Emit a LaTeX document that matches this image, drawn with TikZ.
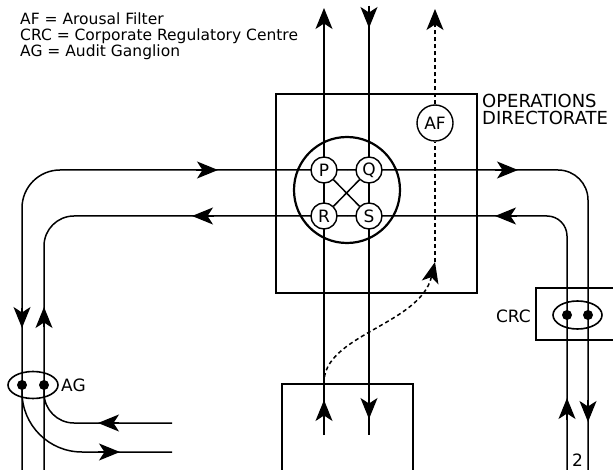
\documentclass[tikz,border=0pt]{standalone}
\usepackage{fontspec}
\setmainfont{DejaVu Sans}
\usetikzlibrary{arrows.meta,shapes.geometric}
\pgfdeclarelayer{background}
\pgfsetlayers{background,main}
\begin{document}
\begin{tikzpicture}[x=1pt,y=-1pt,
  wire/.style={line width=1.5pt},
  tipped/.style={line width=1.5pt,-{Stealth[length=21pt,width=17pt,inset=5.5pt]}},
  dashwire/.style={line width=1.5pt,dash pattern=on 4pt off 3pt},
  thickbox/.style={draw,line width=2.3pt,inner sep=0pt},
  hubnode/.style={circle,draw,line width=1.4pt,fill=white,minimum size=26pt,inner sep=0pt,font=\fontsize{17}{17}\selectfont},
  dotnode/.style={circle,fill=black,minimum size=10pt,inner sep=0pt},
  lbl/.style={inner sep=0pt,font=\fontsize{17}{17}\selectfont}]
\useasboundingbox (0,0) rectangle (613,470);
% legend
\node[anchor=north west,align=left,inner sep=0pt,font=\fontsize{15.5}{16}\selectfont] (legend) at (20,12.3)
  {AF = Arousal Filter\\CRC = Corporate Regulatory Centre\\AG = Audit Ganglion};
% operations directorate
\node[thickbox,minimum width=201pt,minimum height=199pt,anchor=north west] (opdir) at (275,93) {};
\node[anchor=north west,align=left,inner sep=0pt,font=\fontsize{18}{17.5}\selectfont] (oplabel) at (482,93.5) {OPERATIONS\\DIRECTORATE};
\node[circle,draw,line width=2.2pt,minimum size=106pt,inner sep=0pt] (hub) at (347,190) {};
\node[hubnode] (P) at (324,170) {P};
\node[hubnode] (Q) at (369,170) {Q};
\node[hubnode] (R) at (324,216) {R};
\node[hubnode] (S) at (369,216) {S};
\node[hubnode,minimum size=36pt] (AF) at (435,123) {AF};
% AG
\node[ellipse,draw,line width=1.6pt,minimum width=50pt,minimum height=27pt,inner sep=0pt] (AG) at (33,385) {};
\node[dotnode] (AGa) at (22,385) {};
\node[dotnode] (AGb) at (44,385) {};
\node[lbl,anchor=west] (AGlabel) at (61,385.5) {AG};
% CRC
\draw[line width=2pt] (613,288) -- (536,288) -- (536,340) -- (613,340);
\coordinate (crcbox) at (536,314);
\node[ellipse,draw,line width=1.6pt,minimum width=49pt,minimum height=28pt,inner sep=0pt] (CRC) at (577.5,315) {};
\node[dotnode] (CRCa) at (567,315) {};
\node[dotnode] (CRCb) at (588,315) {};
\node[lbl,anchor=east] (CRClabel) at (531,316.5) {CRC};
\node[lbl] (two) at (577.5,460) {2};
% bottom box
\draw[line width=1.5pt] (282,470) -- (282,384) -- (413,384) -- (413,470);
% coordinates
\coordinate (topL) at (324,8);
\coordinate (botL) at (324,435);
\coordinate (topR) at (369,6);
\coordinate (botR) at (369,435);
\coordinate (topAF) at (435,9);
\coordinate (afin) at (435,262);
\coordinate (boxtop) at (324,384);
\coordinate (midU) at (347,170);
\coordinate (midD) at (347,216);
\begin{pgfonlayer}{background}
\draw[tipped] (botL) -- (topL);
\draw[wire] (topR) -- (botR);
\draw[tipped] (369,6) -- (369,28);
\draw[tipped] (324,422) -- (324,400);
\draw[tipped] (369,397) -- (369,419);
\draw[wire] (P) -- (S);
\draw[wire] (Q) -- (R);
\draw[dashwire] (afin) -- (AF);
\draw[dashwire,-{Stealth[length=21pt,width=17pt,inset=5.5pt]}] (AF) -- (topAF);
\draw[dashwire,-{Stealth[length=21pt,width=17pt,inset=5.5pt]}] (boxtop) .. controls (322,335) and (420,325) .. (afin);
% loops
\draw[wire,rounded corners=38pt] (22,470) |- (midU);
\draw[wire,rounded corners=30pt] (midU) -| (588,470);
\draw[wire,rounded corners=30pt] (44,470) |- (midD);
\draw[wire,rounded corners=20pt] (midD) -| (567,470);
\draw[wire,rounded corners=60pt] (AGa.center) |- (172,452);
\draw[wire,rounded corners=30pt] (AGb.center) |- (172,423);
% mid arrows
\draw[tipped] (196,170) -- (218,170);
\draw[tipped] (214,216) -- (192,216);
\draw[tipped] (495,170) -- (518,170);
\draw[tipped] (517,216) -- (495,216);
\draw[tipped] (22,308) -- (22,328);
\draw[tipped] (44,327) -- (44,307);
\draw[tipped] (567,420) -- (567,398);
\draw[tipped] (588,400) -- (588,422);
\draw[tipped] (98,452) -- (120,452);
\draw[tipped] (119,423) -- (98,423);
\end{pgfonlayer}
\end{tikzpicture}
\end{document}
